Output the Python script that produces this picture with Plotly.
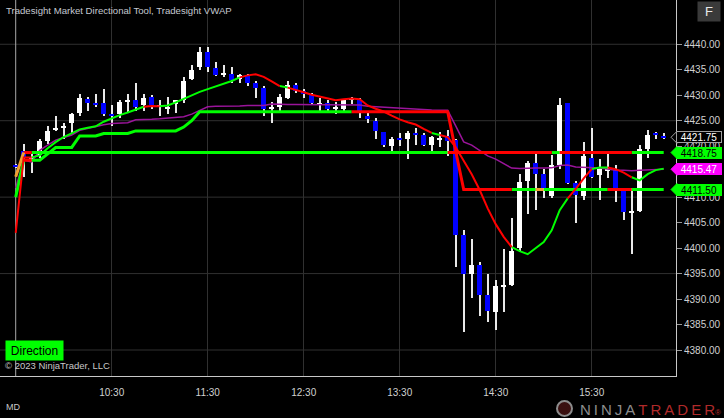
import pandas as pd
import plotly.graph_objects as go

# ---------------- data ----------------
session_date = "2023-06-01"
first_bar = "09:30"
bar_minutes = 5

opens = [4416.25, 4419.0, 4417.5, 4418.25, 4421.0, 4423.25, 4423.5, 4424.5, 4426.5, 4429.25,
         4428.5, 4428.5, 4426.25, 4426.25, 4428.75, 4429.0, 4428.0, 4429.75, 4427.75, 4427.25,
         4428.25, 4429.0, 4433.25, 4435.5, 4438.5, 4435.25, 4434.0, 4434.25, 4433.25, 4433.75,
         4432.5, 4431.5, 4427.25, 4427.75, 4429.5, 4432.0, 4430.75, 4430.0, 4428.25, 4428.5,
         4427.25, 4427.25, 4429.0, 4429.0, 4426.0, 4425.0, 4422.75, 4420.0, 4421.5, 4421.5,
         4422.5, 4422.25, 4420.25, 4421.25, 4422.0, 4421.25, 4402.5, 4395.0, 4396.75, 4390.75,
         4387.5, 4392.5, 4392.75, 4400.0, 4413.25, 4416.75, 4414.5, 4410.25, 4416.25, 4428.5,
         4412.75, 4410.25, 4417.75, 4414.25, 4415.25, 4415.25, 4411.5, 4407.0, 4407.25, 4419.5,
         4422.5, 4422.0]
highs = [4416.5, 4420.5, 4418.5, 4421.5, 4424.0, 4426.0, 4424.5, 4426.5, 4430.25, 4429.75,
         4430.25, 4431.25, 4428.0, 4429.0, 4430.25, 4432.5, 4430.25, 4430.0, 4429.0, 4429.75,
         4429.0, 4433.5, 4436.0, 4439.5, 4439.5, 4436.5, 4436.0, 4435.5, 4434.25, 4434.25,
         4432.75, 4431.75, 4428.75, 4430.25, 4432.75, 4432.5, 4431.25, 4430.5, 4429.5, 4429.0,
         4428.75, 4429.25, 4429.75, 4429.5, 4426.5, 4425.5, 4422.75, 4421.75, 4422.5, 4423.0,
         4423.5, 4422.5, 4422.0, 4422.75, 4423.25, 4421.5, 4403.5, 4401.75, 4397.25, 4395.0,
         4393.75, 4399.75, 4406.0, 4414.5, 4417.0, 4418.5, 4415.5, 4418.25, 4429.5, 4428.5,
         4413.25, 4420.75, 4423.5, 4417.5, 4418.5, 4416.25, 4411.75, 4411.75, 4420.25, 4423.25,
         4422.75, 4422.5]
lows = [4415.75, 4414.0, 4414.75, 4417.75, 4420.5, 4423.0, 4421.5, 4422.5, 4426.0, 4427.0,
        4427.75, 4426.0, 4424.0, 4425.5, 4426.75, 4427.0, 4427.0, 4427.25, 4426.0, 4426.25,
        4426.5, 4428.5, 4433.0, 4435.0, 4434.5, 4433.75, 4433.5, 4432.5, 4432.5, 4431.75,
        4429.5, 4426.0, 4424.5, 4427.0, 4429.25, 4430.5, 4429.5, 4428.0, 4426.75, 4427.0,
        4426.25, 4427.0, 4428.25, 4425.5, 4424.5, 4421.5, 4419.75, 4419.0, 4420.0, 4417.5,
        4420.25, 4420.0, 4418.5, 4419.75, 4418.0, 4396.25, 4383.5, 4390.25, 4386.75, 4385.5,
        4384.0, 4387.5, 4392.5, 4399.5, 4406.75, 4407.5, 4409.75, 4409.75, 4415.5, 4412.5,
        4405.0, 4409.5, 4413.75, 4409.5, 4413.75, 4409.0, 4405.5, 4398.75, 4407.0, 4417.75,
        4421.5, 4421.5]
closes = [4416.0, 4417.75, 4417.75, 4421.0, 4423.0, 4423.5, 4424.0, 4426.25, 4429.5, 4428.5,
          4428.25, 4426.25, 4426.0, 4428.75, 4429.0, 4427.75, 4429.5, 4428.0, 4428.0, 4427.75,
          4429.0, 4432.75, 4435.0, 4438.5, 4435.5, 4434.0, 4434.25, 4433.0, 4434.0, 4432.5,
          4431.5, 4427.25, 4427.75, 4429.75, 4432.0, 4430.75, 4430.25, 4428.5, 4428.5, 4427.25,
          4427.75, 4429.0, 4429.5, 4426.5, 4425.25, 4423.0, 4420.25, 4421.5, 4421.25, 4422.5,
          4422.25, 4420.25, 4421.75, 4421.5, 4421.0, 4402.5, 4395.0, 4396.75, 4390.75, 4387.75,
          4392.5, 4392.75, 4399.5, 4413.0, 4416.75, 4414.5, 4411.75, 4416.25, 4428.0, 4412.75,
          4410.5, 4418.0, 4414.0, 4415.5, 4415.5, 4411.5, 4407.0, 4407.25, 4419.5, 4422.25,
          4422.25, 4421.75]

# Directional tool: upper level, stepped level, trend curve
level_hi = [4414.0] + [4418.75] * 81
level_step = [4410.0, 4417.25, 4417.25, 4417.25, 4418.5, 4419.75, 4419.75, 4419.75, 4422.0, 4422.0,
              4422.0, 4422.5, 4422.5, 4422.5, 4422.5, 4423.0, 4423.0, 4423.0, 4423.0, 4423.0,
              4423.0, 4423.75, 4425.0] + [4426.75] * 32 + [4419.0] + [4411.5] * 26
trend = [4403.0, 4417.8, 4417.8, 4418.2, 4419.6, 4420.8, 4421.8, 4422.5, 4423.3, 4423.6,
         4423.9, 4424.8, 4425.5, 4426.1, 4426.6, 4427.1, 4427.75, 4427.9, 4427.85, 4428.0,
         4428.6, 4429.3, 4430.0, 4430.65, 4431.2, 4431.7, 4432.25, 4432.8, 4433.5, 4433.9,
         4434.1, 4433.6, 4432.7, 4431.8, 4431.5, 4431.1, 4430.6, 4430.1, 4429.7, 4429.3,
         4429.0, 4429.2, 4429.35, 4429.2, 4428.0, 4427.35, 4426.8, 4426.0, 4425.25, 4424.7,
         4424.25, 4423.4, 4422.6, 4422.2, 4421.8, 4419.8, 4417.1, 4414.5, 4411.4, 4407.8,
         4404.7, 4402.2, 4400.2, 4399.4, 4398.8, 4400.0, 4401.2, 4403.5, 4407.45, 4409.75,
         4411.6, 4413.7, 4415.5, 4415.8, 4415.8, 4415.5, 4414.8, 4413.9, 4413.3, 4414.5,
         4415.3, 4415.6]
vwap = [4411.8, 4417.25, 4416.9, 4419.2, 4420.2, 4421.2, 4421.7, 4422.2, 4423.1, 4423.5,
        4423.9, 4424.2, 4424.45, 4424.5, 4424.6, 4425.2, 4425.2, 4425.3, 4425.4, 4425.5,
        4425.6, 4425.8, 4426.3, 4427.05, 4427.75, 4427.85, 4427.85, 4427.9, 4427.9, 4428.0,
        4428.0, 4428.0, 4428.3, 4428.2, 4428.2, 4428.2, 4428.2, 4428.2, 4428.2, 4428.2,
        4428.2, 4428.2, 4428.2, 4428.1, 4427.85, 4427.75, 4427.65, 4427.55, 4427.4, 4427.3,
        4427.25, 4427.15, 4427.1, 4427.05, 4427.05, 4424.0, 4420.85, 4420.2, 4419.1, 4418.1,
        4417.45, 4416.6, 4415.7, 4415.6, 4415.7, 4415.7, 4415.7, 4415.75, 4416.2, 4416.3,
        4415.9, 4415.85, 4415.8, 4415.7, 4415.5, 4415.3, 4415.3, 4415.2, 4415.3, 4415.4,
        4415.45, 4415.47]

# direction state runs per segment (G = long, R = short, O = neutral)
level_hi_runs = [("O", 1), ("R", 1), ("G", 52), ("R", 13), ("G", 1), ("R", 9), ("G", 4)]
level_step_runs = [("G", 1), ("R", 1), ("G", 40), ("R", 20), ("G", 3), ("O", 1), ("G", 8), ("R", 3), ("G", 4)]
trend_runs = [("R", 2), ("G", 14), ("R", 2), ("G", 10), ("R", 5), ("G", 1), ("R", 18), ("G", 1),
              ("R", 9), ("G", 7), ("R", 3), ("G", 2), ("R", 3), ("G", 4)]

x_tick_labels = ["10:30", "11:30", "12:30", "13:30", "14:30", "15:30"]
y_tick_vals = [4380, 4385, 4390, 4395, 4400, 4405, 4410, 4415, 4420, 4425, 4430, 4435, 4440]
y_grid_levels = [4380, 4395, 4410, 4425, 4440]
y_range = [4374.9, 4448.69]

# ---------------- styles ----------------
STATE_COLORS = {"G": "#00ff00", "R": "#ff0000", "O": "#f0a030"}
UP_COLOR = "#ffffff"
DOWN_COLOR = "#0000ff"
VWAP_COLOR = "#9b149b"
FONT = "Arial, 'Liberation Sans', sans-serif"
PX_MS = 37500  # one pixel in milliseconds on the time axis

times = pd.date_range(f"{session_date} {first_bar}", periods=len(opens), freq=f"{bar_minutes}min")
tstr = [t.strftime("%Y-%m-%d %H:%M:%S") for t in times]
x_left = times[0] - pd.Timedelta(milliseconds=15.7 * PX_MS)
x_right = x_left + pd.Timedelta(milliseconds=676 * PX_MS)
x_tick_vals = [f"{session_date} {lbl}" for lbl in x_tick_labels]

fig = go.Figure()

# wicks
fig.add_trace(go.Bar(x=tstr, y=[h - l for h, l in zip(highs, lows)], base=lows,
                     width=PX_MS, marker=dict(color="#e8e8e8", line=dict(width=0)),
                     hoverinfo="skip"))
# bodies
fig.add_trace(go.Bar(x=tstr,
                     y=[max(abs(c - o), 0.25) for o, c in zip(opens, closes)],
                     base=[min(o, c) for o, c in zip(opens, closes)],
                     width=5 * PX_MS,
                     marker=dict(color=[UP_COLOR if c >= o else DOWN_COLOR for o, c in zip(opens, closes)],
                                 line=dict(width=0)),
                     hoverinfo="skip"))

# VWAP
fig.add_trace(go.Scatter(x=tstr, y=vwap, mode="lines", line=dict(color=VWAP_COLOR, width=1.5),
                         hoverinfo="skip"))


def expand(runs):
    out = []
    for s, n in runs:
        out += [s] * n
    return out


def add_state_line(values, runs, width):
    seg = expand(runs)
    for state in ["G", "R", "O"]:
        xs, ys = [], []
        k = 0
        while k < len(seg):
            if seg[k] == state:
                j = k
                while j + 1 < len(seg) and seg[j + 1] == state:
                    j += 1
                xs += tstr[k:j + 2] + [None]
                ys += values[k:j + 2] + [None]
                k = j + 1
            else:
                k += 1
        if xs:
            fig.add_trace(go.Scatter(x=xs, y=ys, mode="lines", connectgaps=False,
                                     line=dict(color=STATE_COLORS[state], width=width),
                                     hoverinfo="skip"))


add_state_line(level_step, level_step_runs, 3)
add_state_line(level_hi, level_hi_runs, 3)
add_state_line(trend, trend_runs, 2)

# grid
for lvl in y_grid_levels:
    fig.add_hline(y=lvl, line=dict(color="#303030", width=1), layer="below")
fig.add_vline(x=tstr[0], line=dict(color="#a8a8a8", width=1), layer="below")


# price tags on the right axis
def add_tag(value, text, bg, fg, border):
    fig.add_shape(type="path", xref="paper", yref="y", xsizemode="pixel", ysizemode="pixel",
                  xanchor=1, yanchor=value, path="M -5,0 L 1,6 L 1,-6 Z",
                  fillcolor=bg, line=dict(color=border, width=1), layer="above")
    fig.add_annotation(xref="paper", yref="y", x=1, y=value, xanchor="left", yanchor="middle",
                       xshift=0, text=text, showarrow=False, bgcolor=bg, bordercolor=border,
                       borderwidth=1, borderpad=0, width=44, height=10,
                       font=dict(family=FONT, size=10, color=fg))


add_tag(closes[-1], f"{closes[-1]:.2f}", "#000000", "#ffffff", "#a0a0a0")
add_tag(level_hi[-1], f"{level_hi[-1]:.2f}", "#00ff00", "#000000", "#00ff00")
add_tag(vwap[-1], f"{vwap[-1]:.2f}", "#ff00ff", "#ffffff", "#ff00ff")
add_tag(level_step[-1], f"{level_step[-1]:.2f}", "#00ff00", "#000000", "#00ff00")

# texts
fig.add_annotation(xref="paper", yref="paper", x=0, y=1, xanchor="left", yanchor="top",
                   xshift=4, yshift=-3, showarrow=False,
                   text="Tradesight Market Directional Tool, Tradesight VWAP",
                   font=dict(family=FONT, size=9.6, color="#c4c8d0"))
fig.add_annotation(xref="paper", yref="paper", x=1, y=1, xanchor="left", yanchor="top",
                   xshift=21, yshift=-1, showarrow=False, text="F", bgcolor="#3a3a3a",
                   width=22, height=19, borderpad=0, font=dict(family=FONT, size=13, color="#e8e8e8"))
fig.add_annotation(xref="paper", yref="paper", x=0, y=(376 - 350.5) / 376, xanchor="left",
                   yanchor="middle", xshift=5, showarrow=False, text="Direction", bgcolor="#00ff00",
                   width=57, height=19, borderpad=0, font=dict(family=FONT, size=12, color="#000000"))
fig.add_annotation(xref="paper", yref="paper", x=0, y=(376 - 365) / 376, xanchor="left",
                   yanchor="middle", xshift=3, showarrow=False, text="© 2023 NinjaTrader, LLC",
                   font=dict(family=FONT, size=9.5, color="#c8c8c8"))
fig.add_annotation(xref="paper", yref="paper", x=0, y=(376 - 407) / 376, xanchor="left",
                   yanchor="middle", xshift=4, showarrow=False, text="MD",
                   font=dict(family=FONT, size=9, color="#c8c8c8"))
sp = "\u2009"
fig.add_annotation(xref="paper", yref="paper", x=1, y=(376 - 409) / 376, xanchor="right",
                   yanchor="middle", xshift=47, showarrow=False,
                   text=("<span style='color:#8c8c8c'>" + sp.join("NINJA") + sp + "</span>"
                         "<span style='color:#b02a2a'>" + sp.join("TRADER") + "</span>"
                         "<span style='color:#b02a2a;font-size:8px'>®</span>"),
                   font=dict(family=FONT, size=15))
fig.add_shape(type="circle", xref="paper", yref="paper",
              x0=557 / 676, x1=572 / 676, y0=(376 - 416) / 376, y1=(376 - 401) / 376,
              line=dict(color="#8c8c8c", width=2), fillcolor="#3a1010")

fig.update_layout(
    width=724, height=418,
    margin=dict(l=0, r=48, t=0, b=42),
    paper_bgcolor="#000000", plot_bgcolor="#000000",
    showlegend=False, barmode="overlay", bargap=0, hovermode=False,
    font=dict(family=FONT, size=10, color="#d0d0d0"),
    xaxis=dict(type="date", range=[x_left, x_right], tickvals=x_tick_vals, ticktext=x_tick_labels,
               showgrid=True, gridcolor="#303030", gridwidth=1, showline=True,
               linecolor="#c8c8c8", linewidth=1, ticks="", ticklabelstandoff=7,
               zeroline=False, tickfont=dict(family=FONT, size=10, color="#d0d0d0")),
    yaxis=dict(side="right", range=y_range, tickvals=y_tick_vals, tickformat=".2f",
               showgrid=False, showline=True, linecolor="#c8c8c8", linewidth=1,
               ticks="outside", ticklen=5, tickcolor="#9a9a9a", zeroline=False,
               tickfont=dict(family=FONT, size=10, color="#d0d0d0")),
)

fig.write_html("out.html", config={"displayModeBar": False},
               post_script="document.body.style.margin='0';document.body.style.background='#000';")
